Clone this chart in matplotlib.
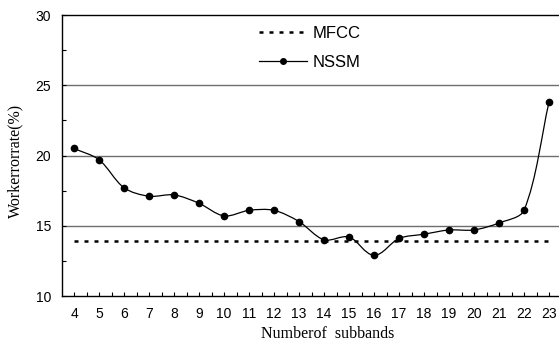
import numpy as np
import matplotlib
matplotlib.use("Agg")
import matplotlib.pyplot as plt
from matplotlib.path import Path
from matplotlib.patches import PathPatch
from matplotlib.lines import Line2D
from matplotlib.ticker import MultipleLocator

# data
subbands = [4, 5, 6, 7, 8, 9, 10, 11, 12, 13, 14, 15, 16, 17, 18, 19, 20, 21, 22, 23]
nssm = [20.5, 19.7, 17.7, 17.1, 17.2, 16.6, 15.7, 16.1, 16.1, 15.3,
        14.0, 14.2, 12.9, 14.1, 14.4, 14.7, 14.7, 15.2, 16.1, 23.8]
mfcc = 13.9
y_ticks = [10, 15, 20, 25, 30]

XLIM = (3.52, 23.4)
YLIM = (10, 30)


def smooth_path(xs, ys, sx, sy, t=0.3):
    # smoothed line like a spreadsheet chart: cubic Beziers whose handles
    # follow the neighbour direction, scaled by segment length (in pixels)
    p = np.column_stack([np.asarray(xs, float) * sx, np.asarray(ys, float) * sy])
    n = len(p)
    u = []
    for i in range(n):
        d = p[min(i + 1, n - 1)] - p[max(i - 1, 0)]
        u.append(d / np.hypot(*d))
    verts = [p[0]]
    codes = [Path.MOVETO]
    for i in range(n - 1):
        L = np.hypot(*(p[i + 1] - p[i]))
        verts += [p[i] + u[i] * L * t, p[i + 1] - u[i + 1] * L * t, p[i + 1]]
        codes += [Path.CURVE4] * 3
    verts = np.array(verts) / [sx, sy]
    return Path(verts, codes)


fig = plt.figure(figsize=(5.59, 3.46), dpi=100)
ax = fig.add_axes([0.111, 0.1445, 0.889, 0.8121])

for y in [15, 20, 25]:
    ax.axhline(y, color="#6e6e6e", lw=1.0, zorder=1)

ax.plot([subbands[0], subbands[-1]], [mfcc, mfcc], color="black",
        lw=1.8, linestyle=(0, (1.6, 2.4)), zorder=2)

# pixels per data unit, so the smoothing is done in screen proportions
sx = 0.889 * 559 / (XLIM[1] - XLIM[0])
sy = 0.8121 * 346 / (YLIM[1] - YLIM[0])
ax.add_patch(PathPatch(smooth_path(subbands, nssm, sx, sy), facecolor="none",
                       edgecolor="black", lw=0.9, zorder=3))
ax.plot(subbands, nssm, "o", color="black", ms=4.5, zorder=4)

ax.set_xlim(*XLIM)
ax.set_ylim(*YLIM)
ax.set_xticks(subbands)
ax.xaxis.set_minor_locator(MultipleLocator(0.5))
ax.set_yticks(y_ticks)
ax.yaxis.set_minor_locator(MultipleLocator(2.5))
ax.tick_params(which="both", direction="in", length=3, width=0.8,
               labelsize=10, pad=8)
for lab in ax.get_xticklabels() + ax.get_yticklabels():
    lab.set_family("Liberation Sans")

ax.spines["right"].set_visible(False)
for s in ["left", "bottom", "top"]:
    ax.spines[s].set_linewidth(1.0)

ax.set_xlabel("Numberof  subbands", family="Liberation Serif", fontsize=11.5)
ax.set_ylabel("Workerrorrate(%)", family="Liberation Serif", fontsize=11.5)
ax.xaxis.set_label_coords(0.535, -0.108)
ax.yaxis.set_label_coords(-0.077, 0.48)

handles = [
    Line2D([], [], color="black", lw=1.8, linestyle=(0, (1.6, 2.4))),
    Line2D([], [], color="black", lw=0.9, marker="o", ms=4, markevery=[1]),
]
ax.legend(handles, ["MFCC", "NSSM"], loc="upper left",
          bbox_to_anchor=(0.366, 1.015), frameon=False,
          prop={"family": "Liberation Sans", "size": 12},
          handlelength=2.9, handletextpad=0.35, labelspacing=0.83)

fig.savefig("out.png", dpi=100)
